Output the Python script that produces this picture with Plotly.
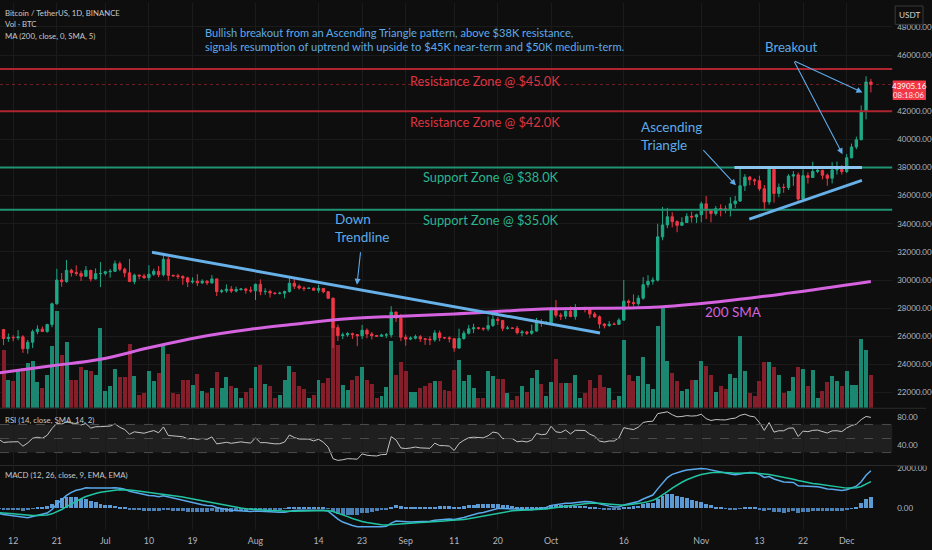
import pandas as pd
import plotly.graph_objects as go

# ---------------- data (BTC/USDT daily, Jun 10 - Dec 6 2023) ----------------
open_jun = [26477, 25840, 25920, 25900, 25960, 25120, 25580, 26330, 26510, 26340, 26840, 28310, 30000, 29890, 30690, 30530, 30470, 30270, 30690, 30080, 30450]
high_jun = [26530, 26200, 26080, 26440, 26080, 25750, 26480, 26780, 26700, 26890, 28400, 30800, 30500, 31430, 30800, 31040, 30660, 31000, 30710, 30830, 31280]
low_jun = [25370, 25600, 25650, 25720, 24820, 24760, 25160, 26150, 26300, 26250, 26640, 28260, 29530, 29810, 30250, 30300, 29930, 30230, 29900, 30040, 29500]
close_jun = [25840, 25920, 25900, 25960, 25120, 25580, 26330, 26510, 26340, 26840, 28310, 30000, 29890, 30690, 30530, 30470, 30270, 30690, 30080, 30450, 30470]

open_jul = [30470, 30590, 30620, 31160, 30770, 30510, 29900, 30350, 30290, 30170, 30410, 30620, 30380, 31470, 30330, 30300, 30250, 30150, 29860, 29910, 29800, 29910, 29800, 30080, 29180, 29230, 29350, 29220, 29320, 29360, 29280]
high_jul = [30660, 30790, 31380, 31320, 30880, 31500, 30450, 30380, 30440, 31050, 30800, 30990, 31800, 31640, 30390, 30440, 30340, 30240, 30190, 30420, 30050, 29990, 30350, 30100, 29350, 29690, 29570, 29530, 29410, 29450, 29530]
low_jul = [30320, 30170, 30570, 30630, 30200, 29850, 29700, 30050, 30070, 29950, 30300, 30200, 30250, 29940, 30250, 30080, 29660, 29500, 29750, 29570, 29720, 29640, 29740, 28860, 29060, 29100, 29080, 29120, 29250, 29030, 29100]
close_jul = [30590, 30620, 31160, 30770, 30510, 29900, 30350, 30290, 30170, 30410, 30620, 30380, 31470, 30330, 30300, 30250, 30150, 29860, 29910, 29800, 29910, 29800, 30080, 29180, 29230, 29350, 29220, 29320, 29360, 29280, 29230]

open_aug = [29230, 29700, 29180, 29190, 29080, 29050, 29060, 29180, 29770, 29560, 29430, 29400, 29420, 29280, 29400, 29170, 28700, 26620, 26050, 26100, 26190, 26120, 26040, 26430, 26160, 26050, 26000, 26090, 26100, 27720, 27300]
high_aug = [29740, 30050, 29410, 29310, 29110, 29170, 29250, 30250, 30140, 29690, 29540, 29480, 29460, 29660, 29440, 29220, 28780, 26830, 26260, 26300, 26260, 26140, 26810, 26560, 26300, 26100, 26180, 26230, 28140, 27760, 27580]
low_aug = [28580, 28920, 28960, 28750, 28960, 28980, 28700, 29110, 29360, 29320, 29210, 29360, 29250, 29100, 29060, 28700, 25170, 25660, 25800, 25970, 25810, 25300, 25800, 25860, 25770, 25970, 25980, 25880, 25910, 27020, 25660]
close_aug = [29700, 29180, 29190, 29080, 29050, 29060, 29180, 29770, 29560, 29430, 29400, 29420, 29280, 29400, 29170, 28700, 26620, 26050, 26100, 26190, 26120, 26040, 26430, 26160, 26050, 26000, 26090, 26100, 27720, 27300, 25930]

open_sep = [25930, 25800, 25870, 25970, 25820, 25790, 25750, 26240, 25900, 25890, 25830, 25160, 25840, 26220, 26530, 26600, 26570, 26530, 26760, 27210, 27130, 26570, 26580, 26570, 26250, 26300, 26220, 26370, 27020, 26910]
high_sep = [26130, 25980, 26120, 26090, 25880, 26000, 26440, 26410, 25940, 26000, 25880, 26540, 26400, 26810, 26890, 26670, 26620, 27410, 27490, 27380, 27160, 26740, 26640, 26740, 26430, 26390, 26830, 27310, 27230, 27090]
low_sep = [25330, 25720, 25780, 25600, 25390, 25370, 25610, 25640, 25800, 25560, 24900, 25130, 25760, 26130, 26220, 26470, 26400, 26380, 26670, 26800, 26370, 26480, 26520, 26130, 26000, 26090, 26110, 26330, 26670, 26880]
close_sep = [25800, 25870, 25970, 25820, 25790, 25750, 26240, 25900, 25890, 25830, 25160, 25840, 26220, 26530, 26600, 26570, 26530, 26760, 27210, 27130, 26570, 26580, 26570, 26250, 26300, 26220, 26370, 27020, 26910, 26970]

open_oct = [26970, 27990, 27500, 27430, 27780, 27410, 27930, 27950, 27920, 27590, 27390, 26870, 26760, 26860, 26850, 27150, 28500, 28400, 28320, 28710, 29670, 29910, 29990, 33070, 33920, 34500, 34150, 33890, 34090, 34530, 34480]
high_oct = [28060, 28580, 27670, 27830, 28120, 28290, 28020, 28110, 27990, 27740, 27480, 26940, 27090, 26990, 27290, 30000, 28610, 28980, 28920, 30200, 30350, 30200, 34000, 35200, 35130, 34820, 34240, 34460, 34750, 34860, 34720]
low_oct = [26940, 27330, 27160, 27220, 27350, 27180, 27860, 27700, 27290, 27300, 26560, 26560, 26680, 26810, 26810, 27120, 28080, 28130, 28170, 28600, 29470, 29670, 29890, 32830, 33690, 33750, 33400, 33860, 34050, 34080, 34050]
close_oct = [27990, 27500, 27430, 27780, 27410, 27930, 27950, 27920, 27590, 27390, 26870, 26760, 26860, 26850, 27150, 28500, 28400, 28320, 28710, 29670, 29910, 29990, 33070, 33920, 34500, 34150, 33890, 34090, 34530, 34480, 34640]

open_nov = [34640, 35420, 34940, 34730, 35080, 35050, 35040, 35420, 35620, 36700, 37320, 37130, 37060, 36490, 35550, 37880, 36160, 36590, 36580, 37390, 37480, 35760, 37420, 37290, 37720, 37800, 37450, 37240, 37830, 37860]
high_nov = [35580, 35980, 34940, 35270, 35380, 35290, 35890, 35980, 37970, 37530, 37400, 37230, 37420, 36760, 37980, 37930, 36860, 36850, 37530, 37750, 37650, 37860, 37650, 38420, 37890, 37840, 37580, 38380, 38430, 38170]
low_nov = [34100, 34330, 34100, 34580, 34530, 34750, 34520, 35120, 35550, 36330, 36740, 36740, 36330, 34950, 35360, 35500, 35880, 36200, 36400, 36700, 35630, 35660, 36860, 37250, 37600, 37160, 36700, 36870, 37500, 37500]
close_nov = [35420, 34940, 34730, 35080, 35050, 35040, 35420, 35620, 36700, 37320, 37130, 37060, 36490, 35550, 37880, 36160, 36590, 36580, 37390, 37480, 35760, 37420, 37290, 37720, 37800, 37450, 37240, 37830, 37860, 37710]

open_dec = [37710, 38690, 39460, 39970, 41990, 44080]
high_dec = [38960, 39700, 40200, 42420, 44490, 44300]
low_dec = [37600, 38650, 39300, 39970, 41420, 43340]
close_dec = [38690, 39460, 39970, 41990, 44080, 43905.16]

# volume (thousand BTC)
vol_jun = [58, 28, 27, 38, 40, 45, 47, 26, 20, 33, 62, 97, 53, 66, 28, 28, 41, 38, 37, 33, 80]
vol_jul = [17, 22, 39, 31, 31, 64, 32, 13, 15, 37, 27, 35, 63, 54, 15, 14, 28, 28, 23, 34, 17, 15, 20, 36, 20, 31, 22, 20, 10, 16, 20]
vol_aug = [41, 43, 24, 22, 10, 13, 28, 42, 36, 22, 19, 10, 13, 28, 25, 30, 82, 63, 23, 18, 28, 32, 41, 28, 24, 10, 12, 21, 67, 33, 46]
vol_sep = [37, 16, 16, 20, 22, 25, 27, 27, 18, 17, 38, 48, 27, 33, 20, 10, 10, 37, 32, 29, 29, 15, 8, 12, 22, 16, 30, 38, 24, 12]
vol_oct = [26, 49, 25, 25, 25, 33, 10, 15, 28, 20, 33, 21, 20, 8, 12, 68, 33, 27, 32, 51, 24, 19, 82, 100, 47, 35, 27, 17, 19, 28, 28]
vol_nov = [47, 42, 33, 16, 22, 19, 34, 30, 72, 37, 15, 12, 27, 46, 46, 41, 33, 15, 17, 31, 41, 39, 22, 38, 10, 17, 26, 32, 27, 22]
vol_dec = [37, 23, 23, 69, 58, 33]

# closes before the visible window (May 1 - Jun 9 2023), used to seed RSI / MACD
warmup_closes = [28090, 28680, 29030, 28850, 29530, 28900, 28430, 27660, 27630, 27620,
                 26990, 26800, 26780, 26920, 27170, 27030, 27400, 26830, 26890, 27110,
                 26750, 26850, 27220, 26330, 26470, 26720, 26870, 28080, 27740, 27700,
                 27220, 26820, 27250, 27070, 27120, 25740, 27240, 26340, 26500, 26480]

# 200-day SMA
sma_dates = ["2023-06-09", "2023-06-20", "2023-06-30", "2023-07-10", "2023-07-20", "2023-07-31",
             "2023-08-10", "2023-08-20", "2023-08-31", "2023-09-11", "2023-10-01", "2023-10-22",
             "2023-11-05", "2023-11-19", "2023-12-06"]
sma_values = [23400, 23900, 24370, 25180, 25920, 26500, 26890, 27250, 27430, 27590, 27950, 28060,
              28470, 29070, 29900]

tick_dates = ["2023-06-12", "2023-06-21", "2023-07-01", "2023-07-10", "2023-07-19", "2023-08-01",
              "2023-08-14", "2023-08-23", "2023-09-01", "2023-09-11", "2023-09-20", "2023-10-01",
              "2023-10-16", "2023-11-01", "2023-11-13", "2023-11-22", "2023-12-01"]
tick_labels = ["12", "21", "Jul", "10", "19", "Aug", "14", "23", "Sep", "11", "20", "Oct",
               "16", "Nov", "13", "22", "Dec"]
# 44000 is hidden behind the last-price label in the reference
price_ticks = [22000, 24000, 26000, 28000, 30000, 32000, 34000, 36000, 38000, 40000, 42000,
               46000, 48000]
rsi_ticks = [40, 80]
macd_ticks = [0, 2000]
last_price = 43905.16
countdown = "08:18:06"

# ---------------- assemble ----------------
opens = open_jun + open_jul + open_aug + open_sep + open_oct + open_nov + open_dec
highs = high_jun + high_jul + high_aug + high_sep + high_oct + high_nov + high_dec
lows = low_jun + low_jul + low_aug + low_sep + low_oct + low_nov + low_dec
closes = close_jun + close_jul + close_aug + close_sep + close_oct + close_nov + close_dec
volumes = vol_jun + vol_jul + vol_aug + vol_sep + vol_oct + vol_nov + vol_dec
dates = pd.date_range("2023-06-10", periods=len(closes), freq="D")
warm_dates = pd.date_range("2023-05-01", periods=len(warmup_closes), freq="D")

all_close = pd.Series(warmup_closes + closes, index=warm_dates.append(dates), dtype=float)
delta = all_close.diff()
avg_gain = delta.clip(lower=0).ewm(alpha=1 / 14, adjust=False).mean()
avg_loss = (-delta.clip(upper=0)).ewm(alpha=1 / 14, adjust=False).mean()
rsi = 100 - 100 / (1 + avg_gain / avg_loss)
macd = all_close.ewm(span=12, adjust=False).mean() - all_close.ewm(span=26, adjust=False).mean()
signal = macd.ewm(span=9, adjust=False).mean()
hist = macd - signal
show = all_close.index >= pd.Timestamp("2023-06-07")
ind_x = all_close.index[show]

# ---------------- style ----------------
W, H = 932, 550
BG = "#0e0e0e"
GRID = "#1b1b1b"
UP, DOWN = "#1fa886", "#f23645"
VOL_UP, VOL_DOWN = "#1b8770", "#831e2a"
BLUE = "#5eaae8"
RED_TXT = "#dc3440"
GREEN_TXT = "#2ab690"
RED_LINE = "#b02430"
GREEN_LINE = "#1e9472"
MAGENTA = "#d562df"
AXIS_TXT = "#b2b5be"
FONT = "Lato, Roboto, Noto Sans, sans-serif"
XR = 898 / W
px = lambda x: x / W
py = lambda y: 1 - y / H

vol_colors = [VOL_UP if c >= o else VOL_DOWN for o, c in zip(opens, closes)]
hist_colors = ["#5b9ad2" if h >= 0 else "#4b80b4" for h in hist[show]]
DAY = 86400000

fig = go.Figure()
fig.add_bar(x=dates, y=volumes, marker=dict(color=vol_colors, line_width=0), width=0.82 * DAY,
            xaxis="x", yaxis="y", hoverinfo="skip", showlegend=False)
fig.add_scatter(x=sma_dates, y=sma_values, mode="lines", xaxis="x", yaxis="y2",
                line=dict(color=MAGENTA, width=3, shape="spline", smoothing=1.0), showlegend=False)
fig.add_candlestick(x=dates, open=opens, high=highs, low=lows, close=closes, xaxis="x", yaxis="y2",
                    increasing=dict(line=dict(color=UP, width=1), fillcolor=UP),
                    decreasing=dict(line=dict(color=DOWN, width=1), fillcolor=DOWN),
                    whiskerwidth=0, showlegend=False)
fig.add_scatter(x=ind_x, y=rsi[show], mode="lines", xaxis="x2", yaxis="y3",
                line=dict(color="#c4c4c4", width=1), showlegend=False)
fig.add_bar(x=ind_x, y=hist[show], marker=dict(color=hist_colors, line_width=0), width=0.8 * DAY,
            xaxis="x3", yaxis="y4", showlegend=False)
fig.add_scatter(x=ind_x, y=macd[show], mode="lines", xaxis="x3", yaxis="y4",
                line=dict(color="#5aa9ec", width=1.5), showlegend=False)
fig.add_scatter(x=ind_x, y=signal[show], mode="lines", xaxis="x3", yaxis="y4",
                line=dict(color="#20c4a0", width=1.5), showlegend=False)

xrange = ["2023-06-09 06:29", "2023-12-10 09:36"]
xcommon = dict(domain=[0, XR], range=xrange, showgrid=True, gridcolor=GRID, gridwidth=1,
               tickvals=tick_dates, zeroline=False, showline=False, ticks="",
               rangeslider=dict(visible=False), fixedrange=True)
ycommon = dict(side="right", showgrid=False, zeroline=False, showline=False, ticks="",
               tickformat=".2f", ticklabelstandoff=4,
               tickfont=dict(color=AXIS_TXT, size=8, family=FONT))

P_BOT = py(407)
fig.update_layout(
    width=W, height=H, margin=dict(l=0, r=0, t=0, b=0),
    paper_bgcolor=BG, plot_bgcolor=BG, showlegend=False,
    font=dict(family=FONT, color=AXIS_TXT),
    xaxis=dict(**xcommon, anchor="y", showticklabels=False),
    xaxis2=dict(**xcommon, anchor="y3", matches="x", showticklabels=False),
    xaxis3=dict(**xcommon, anchor="y4", matches="x", showticklabels=True, ticktext=tick_labels,
                ticklabelstandoff=4, tickfont=dict(color=AXIS_TXT, size=8.8, family=FONT)),
    yaxis=dict(domain=[P_BOT, 1], range=[0, 407], visible=False, anchor="x", fixedrange=True),
    yaxis2=dict(**{**ycommon, "showgrid": True, "gridcolor": GRID}, overlaying="y", anchor="x",
                range=[20918, 49697], tickvals=price_ticks),
    yaxis3=dict(**ycommon, domain=[py(464), py(408)], anchor="x2", range=[13.1, 92.3], tickvals=rsi_ticks),
    yaxis4=dict(**ycommon, domain=[py(530), py(466)], anchor="x3", range=[-1069, 2084], tickvals=macd_ticks),
    bargap=0,
)

shapes = []
# zone lines
for lvl, col in [(45000, RED_LINE), (42000, RED_LINE), (38000, GREEN_LINE), (35000, GREEN_LINE)]:
    shapes.append(dict(type="line", xref="paper", yref="y2", x0=0, x1=XR, y0=lvl, y1=lvl,
                       line=dict(color=col, width=2)))
# current price line
shapes.append(dict(type="line", xref="paper", yref="y2", x0=0, x1=XR, y0=last_price, y1=last_price,
                   line=dict(color="rgba(242,54,69,0.45)", width=1, dash="dot")))
# drawn trendlines
TL = "#67b0e8"
shapes.append(dict(type="line", xref="x", yref="y2", x0="2023-07-10 15:22", y0=31970,
                   x1="2023-10-11 02:24", y1=26242, line=dict(color=TL, width=3)))
shapes.append(dict(type="line", xref="x", yref="y2", x0="2023-11-07 20:10", y0=38000,
                   x1="2023-12-04 03:36", y1=38000, line=dict(color="#8cc6f0", width=3)))
shapes.append(dict(type="line", xref="x", yref="y2", x0="2023-11-10 21:36", y0=34330,
                   x1="2023-12-04 03:36", y1=37090, line=dict(color=TL, width=3)))
# RSI band + levels
shapes.append(dict(type="rect", xref="paper", yref="y3", x0=0, x1=XR, y0=30, y1=70,
                   fillcolor="rgba(255,255,255,0.075)", line_width=0, layer="below"))
for lvl in [30, 50, 70]:
    shapes.append(dict(type="line", xref="paper", yref="y3", x0=0, x1=XR, y0=lvl, y1=lvl,
                       line=dict(color="#4d4d4d", width=1, dash="dash")))
# pane separators
for yy in [407.5, 465]:
    shapes.append(dict(type="line", xref="paper", yref="paper", x0=0, x1=1, y0=py(yy), y1=py(yy),
                       line=dict(color="#2b2b2b", width=1)))
# price label & currency box
shapes.append(dict(type="rect", xref="paper", yref="paper", x0=px(898.5), x1=1, y0=py(97.5), y1=py(78),
                   fillcolor="#f23645", line_width=0))
shapes.append(dict(type="rect", xref="paper", yref="paper", x0=px(901), x1=px(929), y0=py(21.5), y1=py(3),
                   fillcolor=BG, line=dict(color="#3a3a3a", width=1)))
fig.update_layout(shapes=shapes)

ann = []
def text(x, y, s, color, size, xanchor="left", yanchor="middle", align="left"):
    ann.append(dict(xref="paper", yref="paper", x=px(x), y=py(y), text=s, showarrow=False,
                    xanchor=xanchor, yanchor=yanchor, align=align,
                    font=dict(color=color, size=size, family=FONT)))

def arrow(tx, ty, sx, sy):
    ann.append(dict(xref="paper", yref="paper", x=px(tx), y=py(ty), ax=sx - tx, ay=sy - ty, text="",
                    showarrow=True, arrowhead=2, arrowsize=1.1, arrowwidth=1.1, arrowcolor=BLUE))

# legends
LEG = 7.8
text(3, 10.5, "Bitcoin / TetherUS, 1D, BINANCE", "#c8c8c8", LEG)
text(3, 21.5, "Vol · BTC", "#c8c8c8", LEG)
text(3, 33, "MA (200, close, 0, SMA, 5)", "#c8c8c8", LEG)
text(3, 419, "RSI (14, close, SMA, 14, 2)", "#c8c8c8", LEG)
text(3, 475, "MACD (12, 26, close, 9, EMA, EMA)", "#c8c8c8", LEG)
# commentary
text(204, 37, "Bullish breakout from an Ascending Triangle pattern, above $38K resistance,<br>"
     "signals resumption of uptrend with upside to $45K near-term and $50K medium-term.", BLUE, 11.1)
text(566, 78, "Resistance Zone @ $45.0K", RED_TXT, 12.8, xanchor="right")
text(566, 119.5, "Resistance Zone @ $42.0K", RED_TXT, 12.8, xanchor="right")
text(565, 175, "Support Zone @ $38.0K", GREEN_TXT, 12.8, xanchor="right")
text(565, 218, "Support Zone @ $35.0K", GREEN_TXT, 12.8, xanchor="right")
text(797, 44, "Breakout", BLUE, 13.2, xanchor="center")
text(643, 134, "Ascending<br>Triangle", BLUE, 13.5)
text(335, 226, "Down<br>Trendline", BLUE, 13.5)
text(738, 310.5, "200 SMA", MAGENTA, 13.5, xanchor="center")
arrow(868, 90, 799, 58)
arrow(848, 152, 799, 58)
arrow(740.7, 183.3, 706.7, 146.7)
arrow(359.3, 283.3, 363, 249.3)
# axis labels
text(915, 83.3, f"{last_price:.2f}", "#ffffff", 8, xanchor="center")
text(915, 92.6, countdown, "#ffe8ea", 7.8, xanchor="center")
text(915, 12.3, "USDT", "#d1d4dc", 8.2, xanchor="center")
fig.update_layout(annotations=ann)

fig.write_html("out.html", config={"displayModeBar": False},
               post_script="document.body.style.margin='0';document.body.style.overflow='hidden';")
